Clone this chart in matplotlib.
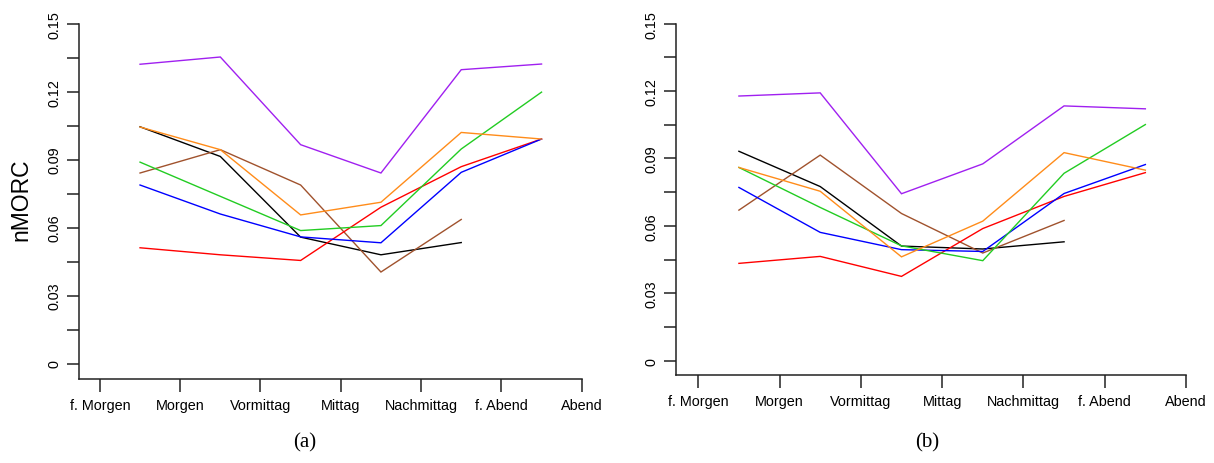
import matplotlib
matplotlib.use("Agg")
import matplotlib.pyplot as plt
import numpy as np

# ---- data ----
tick_labels = ["f. Morgen", "Morgen", "Vormittag", "Mittag", "Nachmittag", "f. Abend", "Abend"]
x_full = [1.5, 2.5, 3.5, 4.5, 5.5, 6.5]
x_short = [1.5, 2.5, 3.5, 4.5, 5.5]

a_purple = [0.1321, 0.1353, 0.0966, 0.0841, 0.1297, 0.1322]
a_green = [0.0889, 0.0738, 0.0587, 0.0609, 0.0947, 0.1198]
a_orange = [0.1044, 0.0944, 0.0656, 0.0712, 0.1020, 0.0991]
a_blue = [0.0788, 0.0660, 0.0559, 0.0533, 0.0844, 0.0991]
a_red = [0.0511, 0.0480, 0.0455, 0.0690, 0.0869, 0.0991]
a_black = [0.1045, 0.0914, 0.0558, 0.0480, 0.0534]
a_brown = [0.0841, 0.0944, 0.0788, 0.0404, 0.0636]

b_purple = [0.1178, 0.1192, 0.0743, 0.0876, 0.1134, 0.1121]
b_green = [0.0860, 0.0682, 0.0511, 0.0445, 0.0834, 0.1051]
b_orange = [0.0860, 0.0754, 0.0462, 0.0621, 0.0926, 0.0848]
b_blue = [0.0771, 0.0571, 0.0494, 0.0486, 0.0744, 0.0873]
b_red = [0.0433, 0.0464, 0.0375, 0.0588, 0.0731, 0.0837]
b_black = [0.0932, 0.0775, 0.0510, 0.0497, 0.0529]
b_brown = [0.0670, 0.0915, 0.0655, 0.0479, 0.0624]

y_major = [0, 0.03, 0.06, 0.09, 0.12, 0.15]
y_major_labels = ["0", "0.03", "0.06", "0.09", "0.12", "0.15"]
y_minor = [0.015, 0.045, 0.075, 0.105, 0.135]

colors = {
    "purple": "#A020F0", "green": "#22CC22", "orange": "#FF8C1A",
    "blue": "#0000FF", "red": "#FF0000", "black": "#000000", "brown": "#A0522D",
}

W, H = 1214, 464
fig = plt.figure(figsize=(W / 100, H / 100), dpi=100)
fig.patch.set_facecolor("white")

font = "Liberation Sans"

def px_axes(left, right, bottom, top):
    return [left / W, 1 - bottom / H, (right - left) / W, (bottom - top) / H]

def make_panel(rect, ylo, xlo, series):
    ax = fig.add_axes(rect)
    for name, ys in series:
        xs = x_full if len(ys) == 6 else x_short
        ax.plot(xs, ys, color=colors[name], lw=1.0, solid_joinstyle="miter")
    ax.set_xlim(xlo, 7)
    ax.set_ylim(ylo, 0.15)
    for s in ["top", "right"]:
        ax.spines[s].set_visible(False)
    for s in ["left", "bottom"]:
        ax.spines[s].set_linewidth(1.1)
        ax.spines[s].set_color("#222222")
    ax.set_xticks(range(1, 8))
    ax.set_xticklabels(tick_labels, fontfamily=font, fontsize=10.4)
    ax.set_yticks(y_major)
    ax.set_yticklabels(y_major_labels, fontfamily=font, fontsize=10.4, rotation=90, va="center")
    ax.set_yticks(y_minor, minor=True)
    ax.tick_params(axis="x", length=9.3, width=1.1, pad=4.5, color="#222222")
    ax.tick_params(axis="y", which="both", length=8.4, width=1.1, pad=4.5, color="#222222")
    ax.set_facecolor("white")
    return ax

ax1 = make_panel(px_axes(79, 581.7, 379.5, 24.7), -0.0066, 0.74,
                 [("black", a_black), ("brown", a_brown), ("red", a_red), ("blue", a_blue),
                  ("green", a_green), ("orange", a_orange), ("purple", a_purple)])
ax2 = make_panel(px_axes(676, 1186, 376, 24.7), -0.0064, 0.726,
                 [("black", b_black), ("brown", b_brown), ("red", b_red), ("blue", b_blue),
                  ("green", b_green), ("orange", b_orange), ("purple", b_purple)])

fig.text(20.5 / W, 1 - 200 / H, "nMORC", rotation=90, ha="center", va="center",
         fontfamily=font, fontsize=16.5)
fig.text(305 / W, 1 - 443 / H, "(a)", ha="center", va="center",
         fontfamily="Liberation Serif", fontsize=15)
fig.text(927 / W, 1 - 443 / H, "(b)", ha="center", va="center",
         fontfamily="Liberation Serif", fontsize=15)

fig.savefig("out.png", dpi=100, facecolor="white")
